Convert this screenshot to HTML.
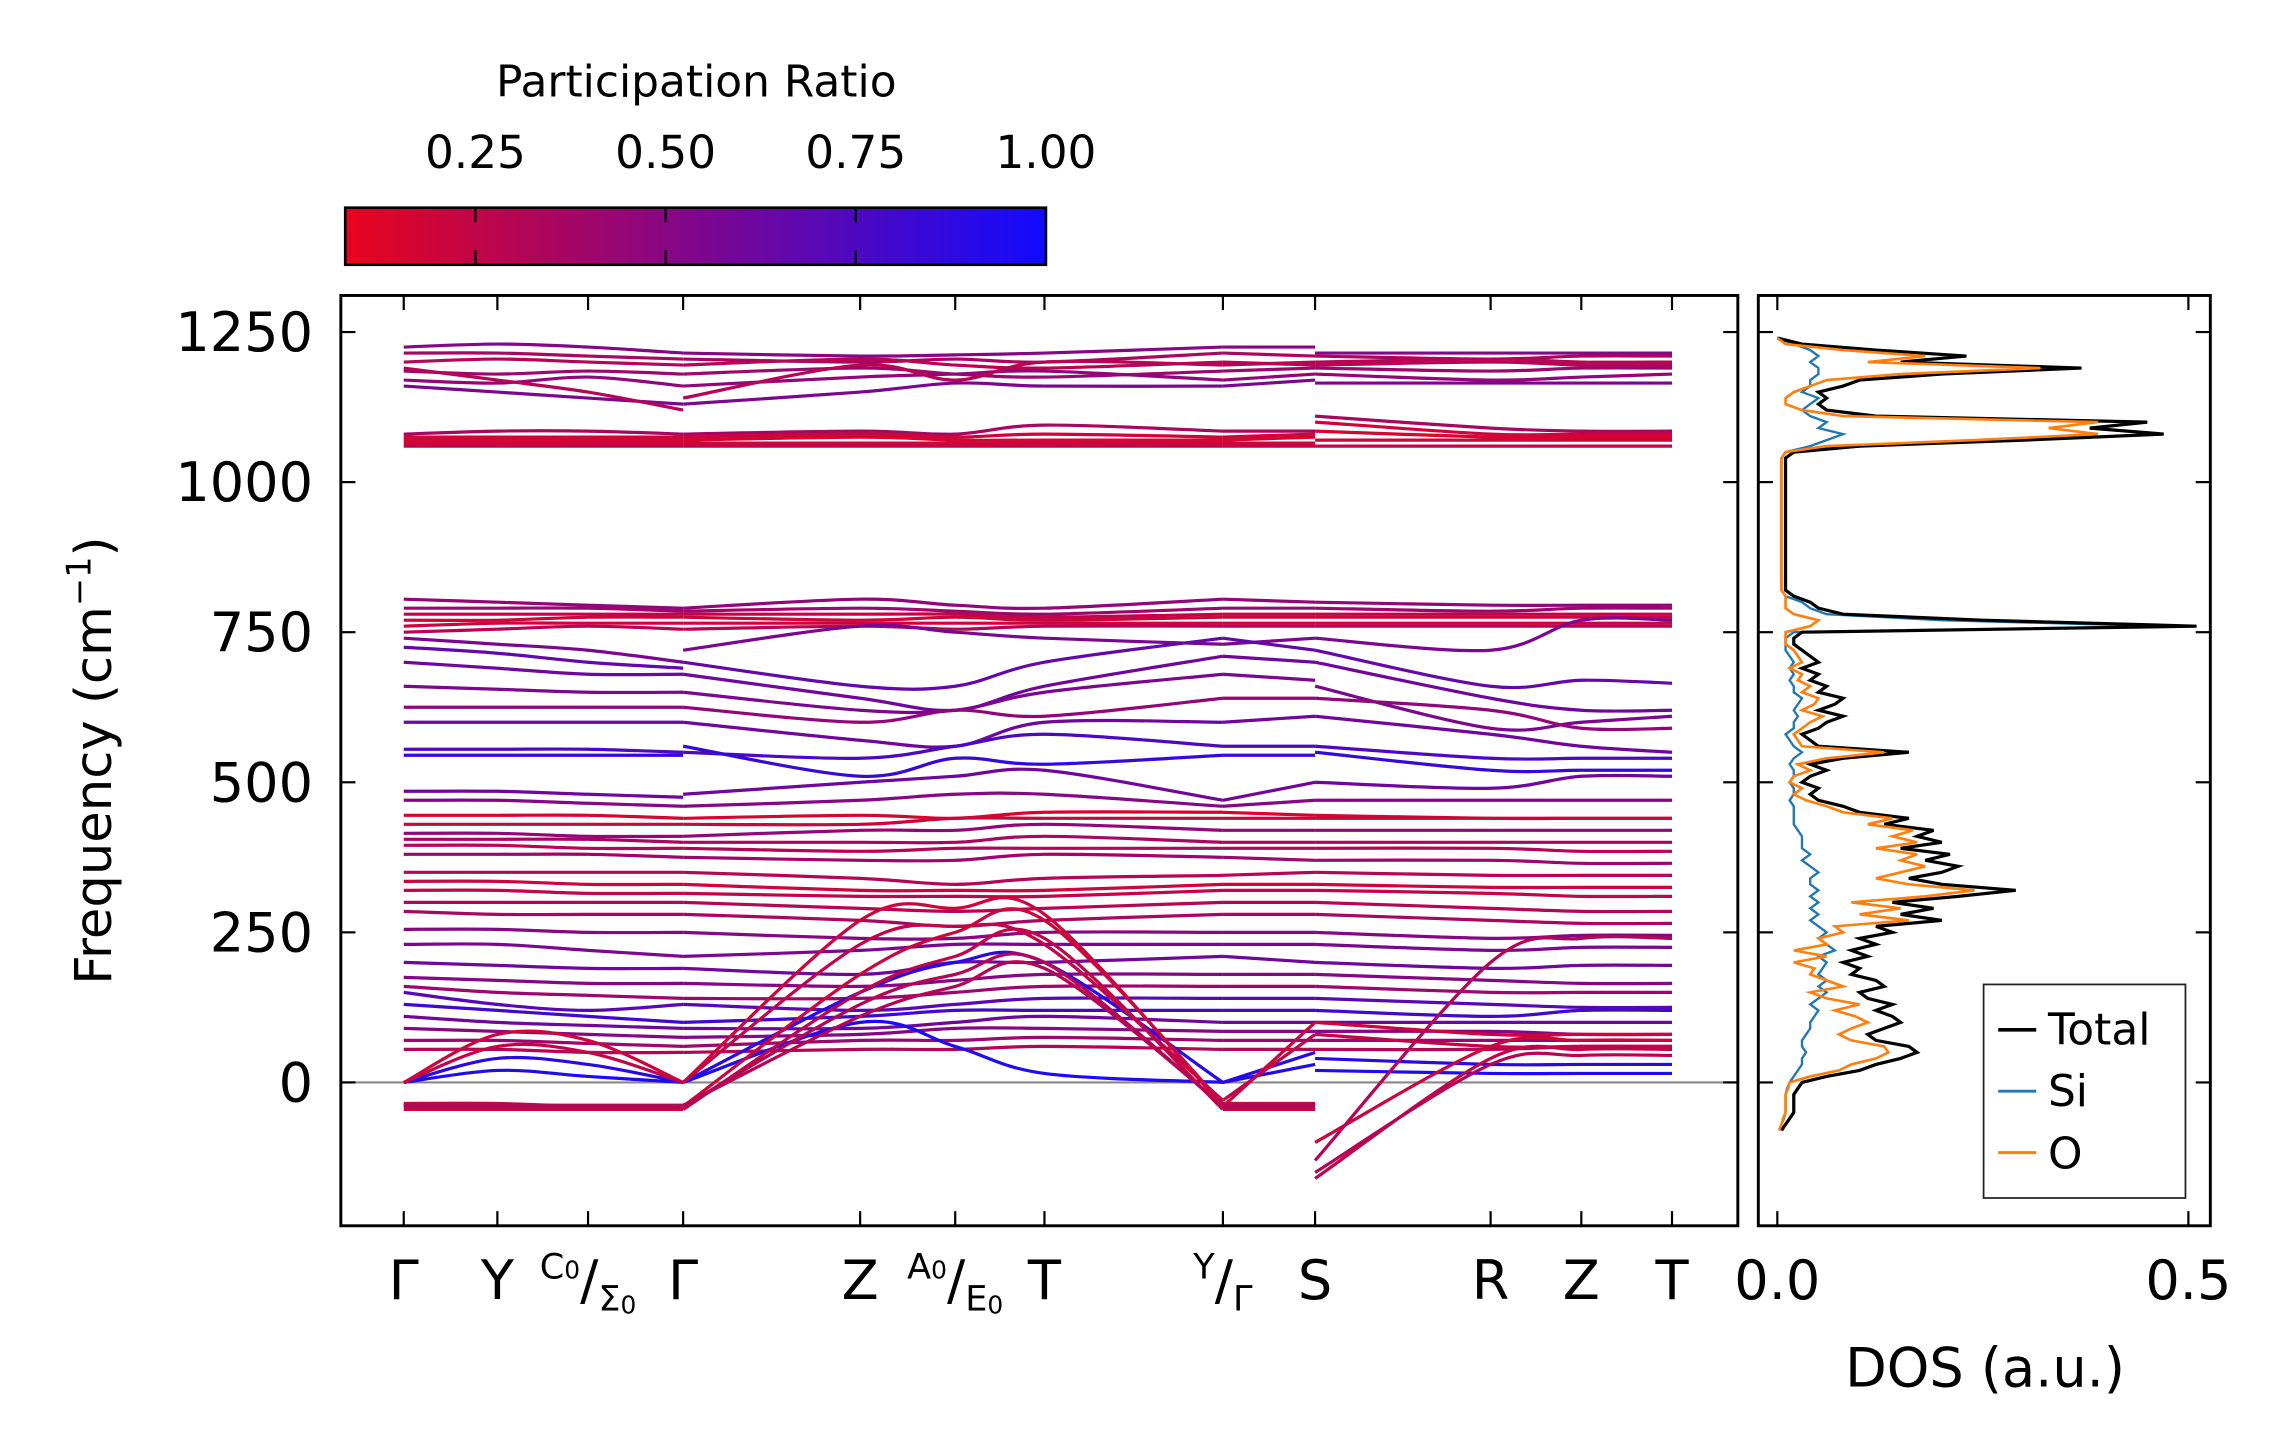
<!DOCTYPE html>
<html><head><meta charset="utf-8"><style>
html,body{margin:0;padding:0;background:#fff;}
svg{display:block;font-family:"DejaVu Sans","Liberation Sans",sans-serif;}
</style></head><body>
<svg id="fig" width="2282" height="1455" viewBox="0 0 1560 994.7" preserveAspectRatio="none" xmlns="http://www.w3.org/2000/svg">
<defs>
<linearGradient id="cbg" x1="0" x2="1" y1="0" y2="0">
<stop offset="0" stop-color="rgb(232,4,30)"/>
<stop offset="0.5" stop-color="rgb(128,6,140)"/>
<stop offset="1" stop-color="rgb(18,10,255)"/>
</linearGradient>
<clipPath id="mainclip"><rect x="234" y="203" width="953" height="634"/></clipPath>
<clipPath id="dosclip"><rect x="1203" y="203" width="307" height="634"/></clipPath>
</defs>
<g id="colorbar">
<rect x="236" y="142" width="479" height="39" fill="url(#cbg)" stroke="#000" stroke-width="1.8"/>
<text x="476" y="66" font-size="30" text-anchor="middle">Participation Ratio</text>
</g>
<g id="main">
<line x1="234" x2="1187" y1="740" y2="740" stroke="#888" stroke-width="1.5"/>
<g id="bands" clip-path="url(#mainclip)"></g>
<rect x="233" y="202" width="955" height="636" fill="none" stroke="#000" stroke-width="2"/>
<g id="mainticks"></g>
<text transform="translate(76,520) rotate(-90)" font-size="35" text-anchor="middle">Frequency (cm<tspan dy="-14" font-size="23">−1</tspan><tspan dy="14">)</tspan></text>
</g>
<g id="dos">
<g id="doslines" clip-path="url(#dosclip)"></g>
<rect x="1202" y="202" width="309" height="636" fill="none" stroke="#000" stroke-width="2"/>
<g id="dosticks"></g>
<text x="1357" y="948" font-size="37" text-anchor="middle">DOS (a.u.)</text>
<g>
<rect x="1356" y="673" width="138" height="146" fill="#fff" stroke="#222" stroke-width="1.2"/>
<line x1="1366" x2="1392" y1="704" y2="704" stroke="#000" stroke-width="2.5"/>
<text x="1400" y="714" font-size="30">Total</text>
<line x1="1366" x2="1392" y1="746" y2="746" stroke="#1f77b4" stroke-width="2"/>
<text x="1400" y="756" font-size="30">Si</text>
<line x1="1366" x2="1392" y1="788" y2="788" stroke="#ff7f0e" stroke-width="2"/>
<text x="1400" y="799" font-size="30">O</text>
</g>
</g>
</svg>
<script>
// ---------- data ----------
const yTicks = [0, 250, 500, 750, 1000, 1250];
const cbTicks = [0.25, 0.5, 0.75, 1.0];
const kLabels = ["Γ","Y","C0/Σ0","Γ","Z","A0/E0","T","Y/Γ","S","R","Z","T"];
const dosTicks = [0.0, 0.5];
// band values at 15 k-points: panel1 (Γ,Y,C0,Γ) panel2 (Γ,Z,A0,T,Y) panel3 (Γ,S) panel4 (S,R,Z,T)
const bandFreqs = [
[1225,1230,1225,1215,1215,1210,1212,1215,1225,1225,1225,1215,1215,1215,1215],
[1215,1215,1210,1205,1205,1200,1205,1200,1215,1215,1210,1210,1205,1210,1210],
[1200,1205,1200,1195,1195,1205,1195,1190,1200,1200,1195,1195,1200,1195,1195],
[1185,1180,1185,1180,1180,1190,1180,1175,1185,1185,1190,1190,1185,1190,1190],
[1170,1165,1175,1160,1160,1175,1180,1185,1170,1170,1180,1180,1170,1175,1180],
[1160,1150,1140,1130,1130,1150,1165,1160,1160,1160,1170,1165,1165,1165,1165],
[1190,1170,1150,1120,1140,1195,1170,1200,1195,1195,1200,1200,1205,1200,1200],
[1080,1085,1085,1080,1080,1085,1080,1095,1085,1085,1085,1110,1090,1085,1085],
[1075,1075,1075,1075,1075,1080,1075,1080,1075,1075,1080,1100,1080,1080,1080],
[1070,1070,1070,1070,1070,1075,1070,1070,1070,1070,1075,1085,1075,1075,1075],
[1065,1065,1065,1065,1065,1065,1065,1065,1065,1065,1065,1070,1070,1070,1070],
[1060,1060,1060,1060,1060,1060,1060,1060,1060,1060,1060,1060,1060,1060,1060],
[805,800,795,790,790,805,795,790,805,805,800,800,795,795,795],
[790,790,790,785,785,790,785,780,790,790,790,790,785,790,790],
[780,780,780,780,780,780,780,775,780,780,780,780,780,780,780],
[770,770,775,775,775,770,775,770,775,775,775,775,775,775,775],
[760,765,765,765,765,765,765,765,765,765,765,765,765,765,765],
[750,755,760,755,755,760,755,760,760,760,760,760,760,760,760],
[740,730,720,700,720,760,750,740,730,730,740,740,720,770,770],
[725,715,700,690,700,660,660,700,740,740,720,720,660,670,665],
[700,690,680,680,680,640,620,660,710,710,700,700,640,620,620],
[660,655,650,650,650,620,620,650,680,680,670,660,590,600,610],
[625,625,625,625,625,600,620,610,640,640,640,640,620,590,590],
[600,600,600,600,600,570,560,600,600,600,610,610,580,560,550],
[555,555,555,550,550,540,560,580,560,560,560,560,540,540,540],
[545,545,545,545,560,510,540,530,545,545,545,550,520,520,520],
[485,485,480,475,480,500,510,520,470,470,500,500,490,510,510],
[470,470,465,460,460,470,480,480,460,460,470,470,470,470,470],
[445,445,445,440,440,445,440,450,450,450,445,445,440,440,440],
[430,430,430,430,430,430,440,440,440,440,440,440,440,440,440],
[415,415,410,410,410,420,420,430,420,420,420,420,420,420,420],
[405,405,405,400,400,400,400,410,400,400,400,400,400,400,400],
[395,395,390,390,390,385,390,390,390,390,390,390,390,385,385],
[380,380,380,375,375,370,370,380,375,375,370,370,370,365,365],
[350,350,350,350,350,340,330,340,345,345,350,350,345,345,345],
[335,335,330,330,330,320,320,320,330,330,330,330,325,325,325],
[320,320,315,315,315,310,310,310,320,320,320,320,315,310,310],
[300,300,300,300,300,290,285,290,300,300,300,300,290,285,285],
[285,280,280,280,280,270,260,270,280,280,280,280,270,265,265],
[255,255,250,250,250,240,240,250,250,250,250,250,240,245,245],
[230,230,220,210,210,220,230,230,230,230,230,230,220,225,225],
[200,195,190,190,190,180,200,200,210,210,200,200,190,195,195],
[175,170,165,165,165,160,170,180,180,180,180,180,170,165,165],
[160,150,145,140,140,140,150,160,160,160,160,160,150,150,150],
[150,130,120,130,130,120,130,140,140,140,140,140,130,125,125],
[130,120,110,100,100,110,120,120,120,120,120,120,110,120,120],
[110,100,95,90,90,90,100,110,100,100,100,100,100,100,100],
[90,85,80,75,75,80,90,90,85,85,85,85,85,80,80],
[70,70,65,60,60,70,70,75,70,70,70,70,70,70,70],
[55,55,50,50,50,55,55,60,55,55,55,55,55,60,60],
[0,20,10,0,0,100,60,15,0,0,30,20,15,15,15],
[0,40,30,0,0,150,200,200,0,0,50,40,30,30,30],
[0,60,50,0,0,230,260,230,-30,-30,80,80,60,60,60],
[0,80,70,0,0,270,290,280,-40,-40,100,100,80,80,80],
[-35,-35,-40,-40,-40,180,250,270,-35,-35,-35,-100,60,70,70],
[-45,-45,-45,-45,-45,150,210,240,-45,-45,-45,-160,40,55,55],
[-40,-40,-40,-40,-40,130,180,200,-40,-40,-40,-150,30,45,45],
[-38,-38,-38,-38,-38,110,160,190,-38,-38,-38,-130,200,240,240]
];
const bandPR = [0.5,0.35,0.3,0.4,0.45,0.55,0.3,0.35,0.2,0.15,0.2,0.25,
0.45,0.4,0.25,0.2,0.2,0.3,0.55,0.65,0.6,0.55,0.45,0.6,0.75,0.85,0.6,0.5,
0.15,0.2,0.45,0.35,0.3,0.4,0.3,0.2,0.25,0.3,0.35,0.5,0.55,0.6,0.5,0.4,0.7,0.8,0.6,0.5,0.4,0.3,
0.95,0.9,0.25,0.2,0.2,0.25,0.3,0.3];
// DOS (frequency grid -80..1240 step 10)
const dosTotal = [0.005,0.01,0.015,0.02,0.02,0.02,0.02,0.025,
0.03,0.06,0.1,0.12,0.15,0.17,0.16,0.12,0.11,0.13,
0.15,0.14,0.12,0.14,0.11,0.1,0.13,0.12,0.09,0.1,
0.08,0.11,0.09,0.12,0.1,0.14,0.12,0.2,0.15,0.19,
0.14,0.22,0.29,0.2,0.16,0.2,0.22,0.18,0.21,0.15,
0.2,0.17,0.19,0.13,0.16,0.1,0.08,0.05,0.04,0.05,
0.03,0.04,0.06,0.04,0.08,0.16,0.05,0.04,0.03,0.05,
0.06,0.08,0.05,0.07,0.08,0.05,0.06,0.04,0.05,0.03,
0.05,0.04,0.03,0.02,0.02,0.03,0.51,0.25,0.08,0.05,
0.04,0.02,0.01,0.01,0.01,0.01,0.01,0.01,0.01,0.01,
0.01,0.01,0.01,0.01,0.01,0.01,0.01,0.01,0.01,0.01,
0.01,0.01,0.01,0.01,0.01,0.02,0.1,0.3,0.47,0.38,
0.45,0.12,0.06,0.05,0.06,0.05,0.08,0.1,0.2,0.37,
0.15,0.23,0.12,0.03,0];
const dosSi = [0.003,0.005,0.008,0.01,0.01,0.01,0.01,0.012,
0.015,0.02,0.025,0.03,0.03,0.035,0.03,0.03,0.035,0.04,
0.04,0.045,0.05,0.04,0.05,0.06,0.05,0.06,0.05,0.055,
0.06,0.05,0.07,0.06,0.05,0.06,0.05,0.04,0.05,0.04,
0.05,0.04,0.05,0.04,0.04,0.05,0.04,0.03,0.04,0.03,
0.03,0.03,0.025,0.02,0.02,0.02,0.02,0.015,0.02,0.02,
0.015,0.02,0.02,0.015,0.02,0.03,0.02,0.015,0.01,0.02,
0.02,0.025,0.02,0.025,0.03,0.02,0.02,0.015,0.02,0.015,
0.02,0.015,0.01,0.01,0.01,0.02,0.47,0.2,0.06,0.04,
0.03,0.01,0.005,0.005,0.005,0.005,0.005,0.005,0.005,0.005,
0.005,0.005,0.005,0.005,0.005,0.005,0.005,0.005,0.005,0.005,
0.005,0.005,0.005,0.005,0.005,0.01,0.04,0.06,0.08,0.05,
0.06,0.04,0.03,0.04,0.05,0.03,0.04,0.04,0.05,0.05,
0.04,0.05,0.04,0.02,0];
const dosO = [0.002,0.005,0.007,0.01,0.01,0.01,0.01,0.013,
0.015,0.04,0.075,0.09,0.12,0.135,0.13,0.09,0.075,0.09,
0.11,0.095,0.07,0.1,0.06,0.04,0.08,0.06,0.04,0.045,
0.02,0.06,0.02,0.06,0.05,0.08,0.07,0.16,0.1,0.15,
0.09,0.18,0.24,0.16,0.12,0.15,0.18,0.15,0.17,0.12,
0.17,0.14,0.165,0.11,0.14,0.08,0.06,0.035,0.02,0.03,
0.015,0.02,0.04,0.025,0.06,0.13,0.03,0.025,0.02,0.03,
0.04,0.055,0.03,0.045,0.05,0.03,0.04,0.025,0.03,0.015,
0.03,0.025,0.02,0.01,0.01,0.01,0.04,0.05,0.02,0.01,
0.01,0.01,0.005,0.005,0.005,0.005,0.005,0.005,0.005,0.005,
0.005,0.005,0.005,0.005,0.005,0.005,0.005,0.005,0.005,0.005,
0.005,0.005,0.005,0.005,0.005,0.01,0.06,0.24,0.39,0.33,
0.39,0.08,0.03,0.01,0.01,0.02,0.04,0.06,0.15,0.32,
0.11,0.18,0.08,0.01,0];
const dosFreqStart = -80, dosFreqStep = 10;

// ---------- layout ----------
const NS = "http://www.w3.org/2000/svg";
const kPos = [276,340,402,467,588,653,714,836,899,1019,1081,1143];
const panels = [[0,1,2,3],[3,4,5,6,7],[7,8],[8,9,10,11]];
function yScale(f){ return 740 - f*102.6/250; }
function dosX(v){ return 1215 + v*562; }
function cbX(v){ return 236 + (v-0.0788)/(1-0.0788)*479; }
function prColor(p){
  const t = Math.max(0, Math.min(1,(p-0.0788)/(1-0.0788)));
  const r = Math.round(232+(18-232)*t), g = Math.round(4+(10-4)*t), b = Math.round(30+(255-30)*t);
  return "rgb("+r+","+g+","+b+")";
}
function mk(tag, attrs, parent){
  const el = document.createElementNS(NS, tag);
  for (const k in attrs) el.setAttribute(k, attrs[k]);
  parent.appendChild(el); return el;
}
function smoothPath(pts){
  if (pts.length===2) return "M"+pts[0][0]+","+pts[0][1]+"L"+pts[1][0]+","+pts[1][1];
  let d = "M"+pts[0][0]+","+pts[0][1];
  for (let i=0;i<pts.length-1;i++){
    const p0 = pts[Math.max(0,i-1)], p1 = pts[i], p2 = pts[i+1], p3 = pts[Math.min(pts.length-1,i+2)];
    const c1x = p1[0]+(p2[0]-p0[0])/6, c1y = p1[1]+(p2[1]-p0[1])/6;
    const c2x = p2[0]-(p3[0]-p1[0])/6, c2y = p2[1]-(p3[1]-p1[1])/6;
    d += "C"+c1x+","+c1y+" "+c2x+","+c2y+" "+p2[0]+","+p2[1];
  }
  return d;
}

// ---------- bands ----------
const bandsG = document.getElementById("bands");
bandFreqs.forEach((vals, bi) => {
  let off = 0;
  panels.forEach((pan) => {
    const pts = pan.map((ki, j) => [kPos[ki], yScale(vals[off+j])]);
    off += pan.length;
    const p = mk("path", {d: smoothPath(pts), fill:"none", stroke: prColor(bandPR[bi]), "stroke-width": 2.2}, bandsG);
    
    
  });
});

// ---------- main ticks ----------
const mt = document.getElementById("mainticks");
yTicks.forEach(v => {
  const y = yScale(v);
  mk("line",{x1:233,x2:243,y1:y,y2:y,stroke:"#000","stroke-width":1.5},mt);
  mk("line",{x1:1178,x2:1188,y1:y,y2:y,stroke:"#000","stroke-width":1.5},mt);
  const t = mk("text",{x:214,y:y+13,"font-size":37,"text-anchor":"end"},mt);
  t.textContent = v;
  
  
  mk("line",{x1:1202,x2:1212,y1:y,y2:y,stroke:"#000","stroke-width":1.5},mt);
  mk("line",{x1:1501,x2:1511,y1:y,y2:y,stroke:"#000","stroke-width":1.5},mt);
});
kLabels.forEach((lab, i) => {
  const x = kPos[i];
  mk("line",{x1:x,x2:x,y1:828,y2:838,stroke:"#000","stroke-width":1.5},mt);
  mk("line",{x1:x,x2:x,y1:202,y2:212,stroke:"#000","stroke-width":1.5},mt);
  const t = mk("text",{x:x,y:888,"font-size":37,"text-anchor":"middle"},mt);
  
  
  if (lab.indexOf("/")>=0){
    const parts = lab.split("/");
    const a = parts[0], b = parts[1];
    const s1 = mk("tspan",{"font-size":24,dy:-14},t); s1.textContent = a.length>1 ? a[0] : a;
    if (a.length>1){ const s1b = mk("tspan",{"font-size":17,dy:0},t); s1b.textContent = a.slice(1); }
    const s2 = mk("tspan",{"font-size":37,dy:14},t); s2.textContent = "/";
    const s3 = mk("tspan",{"font-size":24,dy:8},t); s3.textContent = b.length>1 ? b[0] : b;
    if (b.length>1){ const s3b = mk("tspan",{"font-size":17,dy:2},t); s3b.textContent = b.slice(1); }
  } else {
    t.textContent = lab;
  }
});

// ---------- colorbar ticks ----------
const cb = document.getElementById("colorbar");
cbTicks.forEach(v => {
  const x = cbX(v);
  mk("line",{x1:x,x2:x,y1:142,y2:152,stroke:"#000","stroke-width":1.5},cb);
  mk("line",{x1:x,x2:x,y1:171,y2:181,stroke:"#000","stroke-width":1.5},cb);
  const t = mk("text",{x:x,y:115,"font-size":31,"text-anchor":"middle"},cb);
  t.textContent = v.toFixed(2);
  
  
});

// ---------- DOS ----------
const dl = document.getElementById("doslines");
function dosPath(arr){
  return arr.map((v,i)=> (i?"L":"M")+dosX(v)+","+yScale(dosFreqStart+i*dosFreqStep)).join("");
}
const pSi = mk("path",{d:dosPath(dosSi),fill:"none",stroke:"#1f77b4","stroke-width":1.6},dl);


const pT = mk("path",{d:dosPath(dosTotal),fill:"none",stroke:"#000","stroke-width":2.2},dl);


const pO = mk("path",{d:dosPath(dosO),fill:"none",stroke:"#ff7f0e","stroke-width":1.8},dl);


const dt = document.getElementById("dosticks");
dosTicks.forEach(v => {
  const x = dosX(v);
  mk("line",{x1:x,x2:x,y1:828,y2:838,stroke:"#000","stroke-width":1.5},dt);
  mk("line",{x1:x,x2:x,y1:202,y2:212,stroke:"#000","stroke-width":1.5},dt);
  const t = mk("text",{x:x,y:888,"font-size":37,"text-anchor":"middle"},dt);
  t.textContent = v.toFixed(1);
  
  
});
</script>
</body></html>
